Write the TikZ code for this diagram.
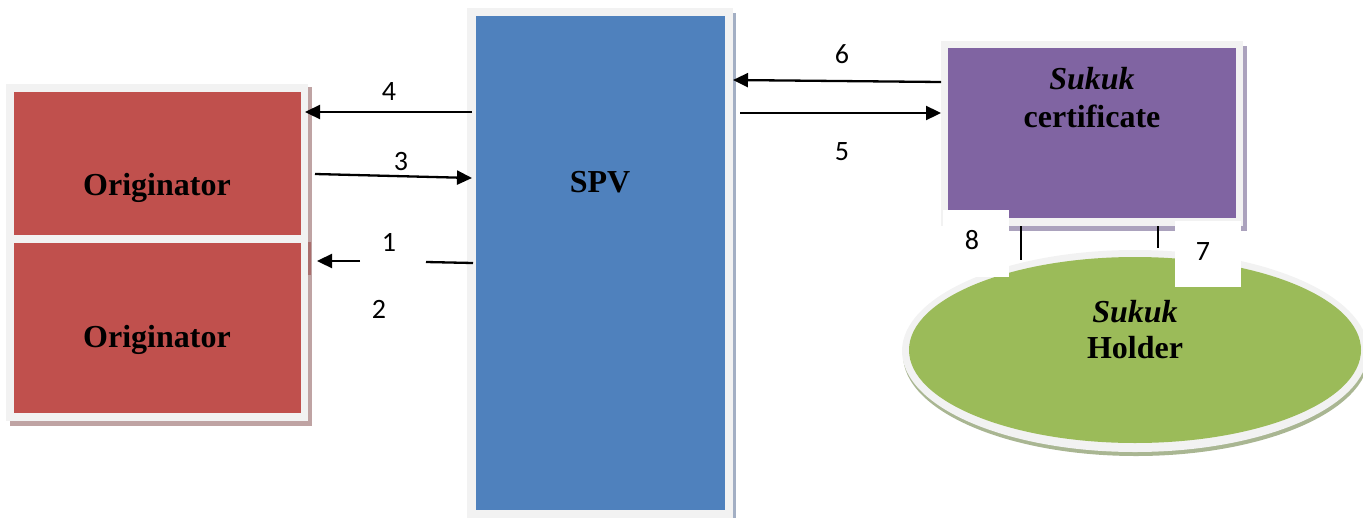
\documentclass[tikz,border=0pt]{standalone}
\usepackage{fontspec}
\setmainfont{Liberation Serif}
\newfontfamily\numfont{Carlito}
\usetikzlibrary{arrows.meta,shapes.geometric,calc}
\definecolor{frameg}{HTML}{F2F2F2}
\definecolor{redf}{HTML}{C0504D}
\definecolor{bluef}{HTML}{4F81BD}
\definecolor{purf}{HTML}{8064A2}
\definecolor{greenf}{HTML}{9BBB59}
\definecolor{redsh}{HTML}{BFA3A3}
\definecolor{bluesh}{HTML}{A3AFC4}
\definecolor{pursh}{HTML}{ABA2BD}
\definecolor{greensh}{HTML}{A9B692}
\tikzset{
  box/.style={rectangle, inner sep=0pt, outer sep=0pt, anchor=north west},
  lbl/.style={font=\bfseries\fontsize{32}{36}\selectfont, align=center, inner sep=0pt},
  num/.style={font=\numfont\fontsize{28}{30}\selectfont, inner sep=0pt},
  arr/.style={line width=2.3pt, -{Triangle[length=15pt,width=14pt]}},
  ln/.style={line width=2.3pt},
  whitebox/.style={rectangle, fill=white, inner sep=0pt, outer sep=0pt, anchor=north west}
}
\begin{document}
\begin{tikzpicture}[x=1pt,y=-1pt]
\useasboundingbox (0,0) rectangle (1363,517);
% ---------- Originator ----------
\node[box, fill=redsh, minimum width=302pt, minimum height=339pt] (origsh) at (10,87) {};
\node[box, fill=frameg, minimum width=302pt, minimum height=337pt] (origf) at (6,84) {};
\node[box, fill=redf, minimum width=287pt, minimum height=143pt] (orig1) at (14,92) {};
\node[box, fill=redf, minimum width=287pt, minimum height=170pt] (orig2) at (14,243) {};
\fill[redsh!80!black!60!redf] (308,242) rectangle (311,275);
\node[lbl] (t1) at (157,188) {Originator};
\node[lbl] (t2) at (157,340) {Originator};
% ---------- SPV ----------
\node[box, fill=bluesh, minimum width=266pt, minimum height=510pt] (spvsh) at (470,13) {};
\node[box, fill=frameg, minimum width=266pt, minimum height=510pt] (spvf) at (467,8) {};
\node[box, fill=bluef, minimum width=249pt, minimum height=494pt] (spv) at (476,16) {};
\node[lbl] (tspv) at (600,182) {SPV};
% ---------- Sukuk certificate ----------
\node[box, fill=pursh, minimum width=304pt, minimum height=185pt] (certsh) at (943,46) {};
\node[box, fill=frameg, minimum width=302pt, minimum height=185pt] (certf) at (941,41) {};
\node[box, fill=purf, minimum width=288pt, minimum height=170pt] (cert) at (948,48) {};
\node[lbl] (tc1) at (1092,79) {\itshape Sukuk};
\node[lbl] (tc2) at (1092,116) {certificate};
% ---------- Sukuk holder ----------
\node[ellipse, fill=greensh, inner sep=0pt, minimum width=466pt, minimum height=202pt] (holdsh) at (1136,355) {};
\node[ellipse, fill=frameg, inner sep=0pt, minimum width=466pt, minimum height=202pt] (holdf) at (1135,351) {};
\node[ellipse, fill=greenf, inner sep=0pt, minimum width=452pt, minimum height=186pt] (hold) at (1135,350) {};
\node[lbl] (th1) at (1135,312) {\itshape Sukuk};
\node[lbl] (th2) at (1135,348) {Holder};
% ---------- label boxes 8 and 7 ----------
\node[whitebox, minimum width=66pt, minimum height=67pt] (b8) at (943,210) {};
\node[whitebox, minimum width=66pt, minimum height=66pt] (b7) at (1175,221) {};
\node[num] (n8) at (972,240) {8};
\node[num] (n7) at (1203,252) {7};
\coordinate (e8) at (1021,260);
\coordinate (e7) at (1158,248);
\draw[line width=1.6pt] (certf.south -| e8) -- (e8);
\draw[line width=1.6pt] (certf.south -| e7) -- (e7);
% ---------- connectors ----------
\coordinate (a4) at (305,112);
\draw[arr] ($(spvf.west |- a4)+(5,0)$) -- (a4);
\coordinate (s3) at (315,174);
\coordinate (a3) at (472,178);
\draw[arr] (s3) -- (a3);
\coordinate (g1a) at (426,262);
\coordinate (g1b) at (360,261);
\coordinate (a1) at (317,261);
\draw[ln] ($(spvf.west |- 0,263)+(6,0)$) -- (g1a);
\draw[arr] (g1b) -- (a1);
\coordinate (a6) at (733,80);
\draw[arr] (certf.west |- 0,82) -- (a6);
\coordinate (s5) at (740,113);
\draw[arr] (s5) -- (certf.west |- 0,113);
% ---------- numbers ----------
\node[num] (n4) at (389,92) {4};
\node[num] (n3) at (401,162) {3};
\node[num] (n1) at (389,242) {1};
\node[num] (n2) at (379,309) {2};
\node[num] (n6) at (842,54) {6};
\node[num] (n5) at (842,152) {5};
\end{tikzpicture}
\end{document}
